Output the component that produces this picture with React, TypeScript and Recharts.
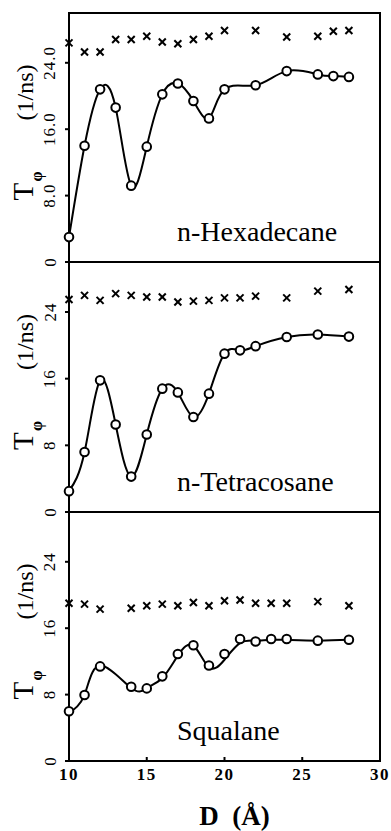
import React from 'react';
import { ComposedChart, Line, Scatter, XAxis, YAxis, ReferenceArea } from 'recharts';

// D values (Å) where each run was measured
const hexD = [10, 11, 12, 13, 14, 15, 16, 17, 18, 19, 20, 22, 24, 26, 27, 28];
const hexCircle = [3.0, 14.0, 20.8, 18.6, 9.2, 13.9, 20.2, 21.5, 19.4, 17.3, 20.8, 21.3, 23.0, 22.6, 22.4, 22.3];
const hexCross = [26.4, 25.3, 25.3, 26.8, 26.8, 27.2, 26.5, 26.3, 26.8, 27.2, 27.9, 27.9, 27.1, 27.2, 27.8, 27.9];

const tetraD = [10, 11, 12, 13, 14, 15, 16, 17, 18, 19, 20, 21, 22, 24, 26, 28];
const tetraCircle = [2.5, 7.2, 15.8, 10.5, 4.25, 9.3, 14.8, 14.35, 11.4, 14.2, 19.0, 19.4, 19.9, 21.0, 21.3, 21.05];
const tetraCross = [25.5, 26.0, 25.4, 26.2, 26.0, 25.8, 25.8, 25.2, 25.3, 25.4, 25.7, 25.7, 25.9, 25.7, 26.5, 26.7];

const squalD = [10, 11, 12, 14, 15, 16, 17, 18, 19, 20, 21, 22, 23, 24, 26, 28];
const squalCircle = [6.0, 7.95, 11.4, 8.95, 8.75, 10.2, 12.9, 13.95, 11.5, 12.9, 14.7, 14.4, 14.7, 14.7, 14.5, 14.6];
const squalCross = [19.0, 18.9, 18.3, 18.4, 18.7, 18.9, 18.7, 19.1, 18.7, 19.3, 19.4, 19.0, 19.0, 19.0, 19.2, 18.7];
// the squalane curve is a smooth fit, it misses some of the circles
const squalFit = [5.8, 8.0, 11.5, 8.8, 8.8, 10.0, 12.7, 13.9, 11.3, 12.2, 14.2, 14.5, 14.6, 14.6, 14.5, 14.6];

const xTicks = [10, 15, 20, 25, 30];
const innerXTicks = [15, 20, 25];
const yTicks = [0, 8, 16, 24];
const topYLabels = ['0', '8.0', '16.0', '24.0'];
const yLabels = ['0', '8', '16', '24'];

const FONT = '"Liberation Serif", "Times New Roman", serif';

const toRows = (d: number[], v: number[]) => d.map((x, i) => ({ d: x, v: v[i] }));

const Circle = (p: any) => (
  <circle cx={p.cx} cy={p.cy} r={4.3} fill="#fff" stroke="#000" strokeWidth={2} />
);

const Cross = (p: any) => (
  <g stroke="#000" strokeWidth={2}>
    <line x1={p.cx - 3.5} y1={p.cy - 3.5} x2={p.cx + 3.5} y2={p.cy + 3.5} />
    <line x1={p.cx - 3.5} y1={p.cy + 3.5} x2={p.cx + 3.5} y2={p.cy - 3.5} />
  </g>
);

interface PanelProps {
  name: string;
  d: number[];
  circles: number[];
  crosses: number[];
  fit: number[];
  labels: string[];
  top: number;
  height: number;
  marginTop: number;
  bottomAxis?: boolean;
}

function Panel({ name, d, circles, crosses, fit, labels, top, height, marginTop, bottomAxis }: PanelProps) {
  const axisH = bottomAxis ? 70 : 0;
  const marginBottom = bottomAxis ? 0 : 10;
  const plotH = height - marginTop - axisH - marginBottom;
  const cy = marginTop + plotH / 2;
  const nameY = marginTop + plotH - 21;

  return (
    <div style={{ position: 'absolute', left: 0, top }}>
      <ComposedChart
        width={391}
        height={height}
        margin={{ top: marginTop, right: 11, bottom: marginBottom, left: 0 }}
      >
        <XAxis
          dataKey="d"
          type="number"
          domain={[10, 30]}
          ticks={bottomAxis ? xTicks : innerXTicks}
          height={axisH}
          stroke="#000"
          strokeWidth={2}
          tickSize={-4}
          tickMargin={11}
          tick={
            bottomAxis
              ? (p: any) => (
                  <text
                    x={p.x}
                    y={p.y}
                    dy="0.71em"
                    textAnchor="middle"
                    fontFamily={FONT}
                    fontWeight="bold"
                    fontSize={17}
                    letterSpacing={1.5}
                    fill="#000"
                  >
                    {p.payload.value}
                  </text>
                )
              : false
          }
          label={
            bottomAxis
              ? {
                  content: (p: any) => {
                    const vb = p.viewBox;
                    return (
                      <text
                        x={vb.x + vb.width / 2 + 10}
                        y={vb.y + 64}
                        textAnchor="middle"
                        fontFamily={FONT}
                        fontWeight="bold"
                        fontSize={27}
                        fill="#000"
                        style={{ whiteSpace: 'pre' }}
                      >
                        {'D  (Å)'}
                      </text>
                    );
                  },
                }
              : undefined
          }
        />
        <YAxis
          type="number"
          domain={[0, 30]}
          ticks={yTicks}
          width={69}
          stroke="#000"
          strokeWidth={2}
          tickSize={4}
          tick={(p: any) => (
            <text
              x={50}
              y={p.y}
              transform={`rotate(-90, 50, ${p.y})`}
              textAnchor="middle"
              dominantBaseline="central"
              fontFamily={FONT}
              fontSize={17}
              letterSpacing={1}
              fill="#000"
            >
              {labels[yTicks.indexOf(p.payload.value)]}
            </text>
          )}
        />
        <ReferenceArea x1={10} x2={30} y1={0} y2={30} fill="none" stroke="#000" strokeWidth={2} />
        <Line
          data={toRows(d, fit)}
          dataKey="v"
          type="natural"
          stroke="#000"
          strokeWidth={2}
          dot={false}
          isAnimationActive={false}
        />
        <Scatter data={toRows(d, crosses)} dataKey="v" shape={Cross} isAnimationActive={false} />
        <Scatter data={toRows(d, circles)} dataKey="v" shape={Circle} isAnimationActive={false} />
        <text x={177} y={nameY} fontFamily={FONT} fontSize={28} fill="#000">
          {name}
        </text>
        <g fontFamily={FONT} fill="#000">
          <text x={33} y={cy + 63} transform={`rotate(-90, 33, ${cy + 63})`} fontSize={29}>
            T
          </text>
          <text x={42} y={cy + 44} transform={`rotate(-90, 42, ${cy + 44})`} fontSize={16} fontWeight="bold">
            φ
          </text>
          <text x={33} y={cy - 17} transform={`rotate(-90, 33, ${cy - 17})`} fontSize={24}>
            (1/ns)
          </text>
        </g>
      </ComposedChart>
    </div>
  );
}

export default function App() {
  return (
    <div style={{ position: 'absolute', left: 0, top: 0, width: 391, height: 831, background: '#fff' }}>
      <Panel
        name="n-Hexadecane"
        d={hexD}
        circles={hexCircle}
        crosses={hexCross}
        fit={hexCircle}
        labels={topYLabels}
        top={0}
        height={272}
        marginTop={13}
      />
      <Panel
        name="n-Tetracosane"
        d={tetraD}
        circles={tetraCircle}
        crosses={tetraCross}
        fit={tetraCircle}
        labels={yLabels}
        top={250}
        height={272}
        marginTop={12}
      />
      <Panel
        name="Squalane"
        d={squalD}
        circles={squalCircle}
        crosses={squalCross}
        fit={squalFit}
        labels={yLabels}
        top={500}
        height={331}
        marginTop={12}
        bottomAxis
      />
    </div>
  );
}
